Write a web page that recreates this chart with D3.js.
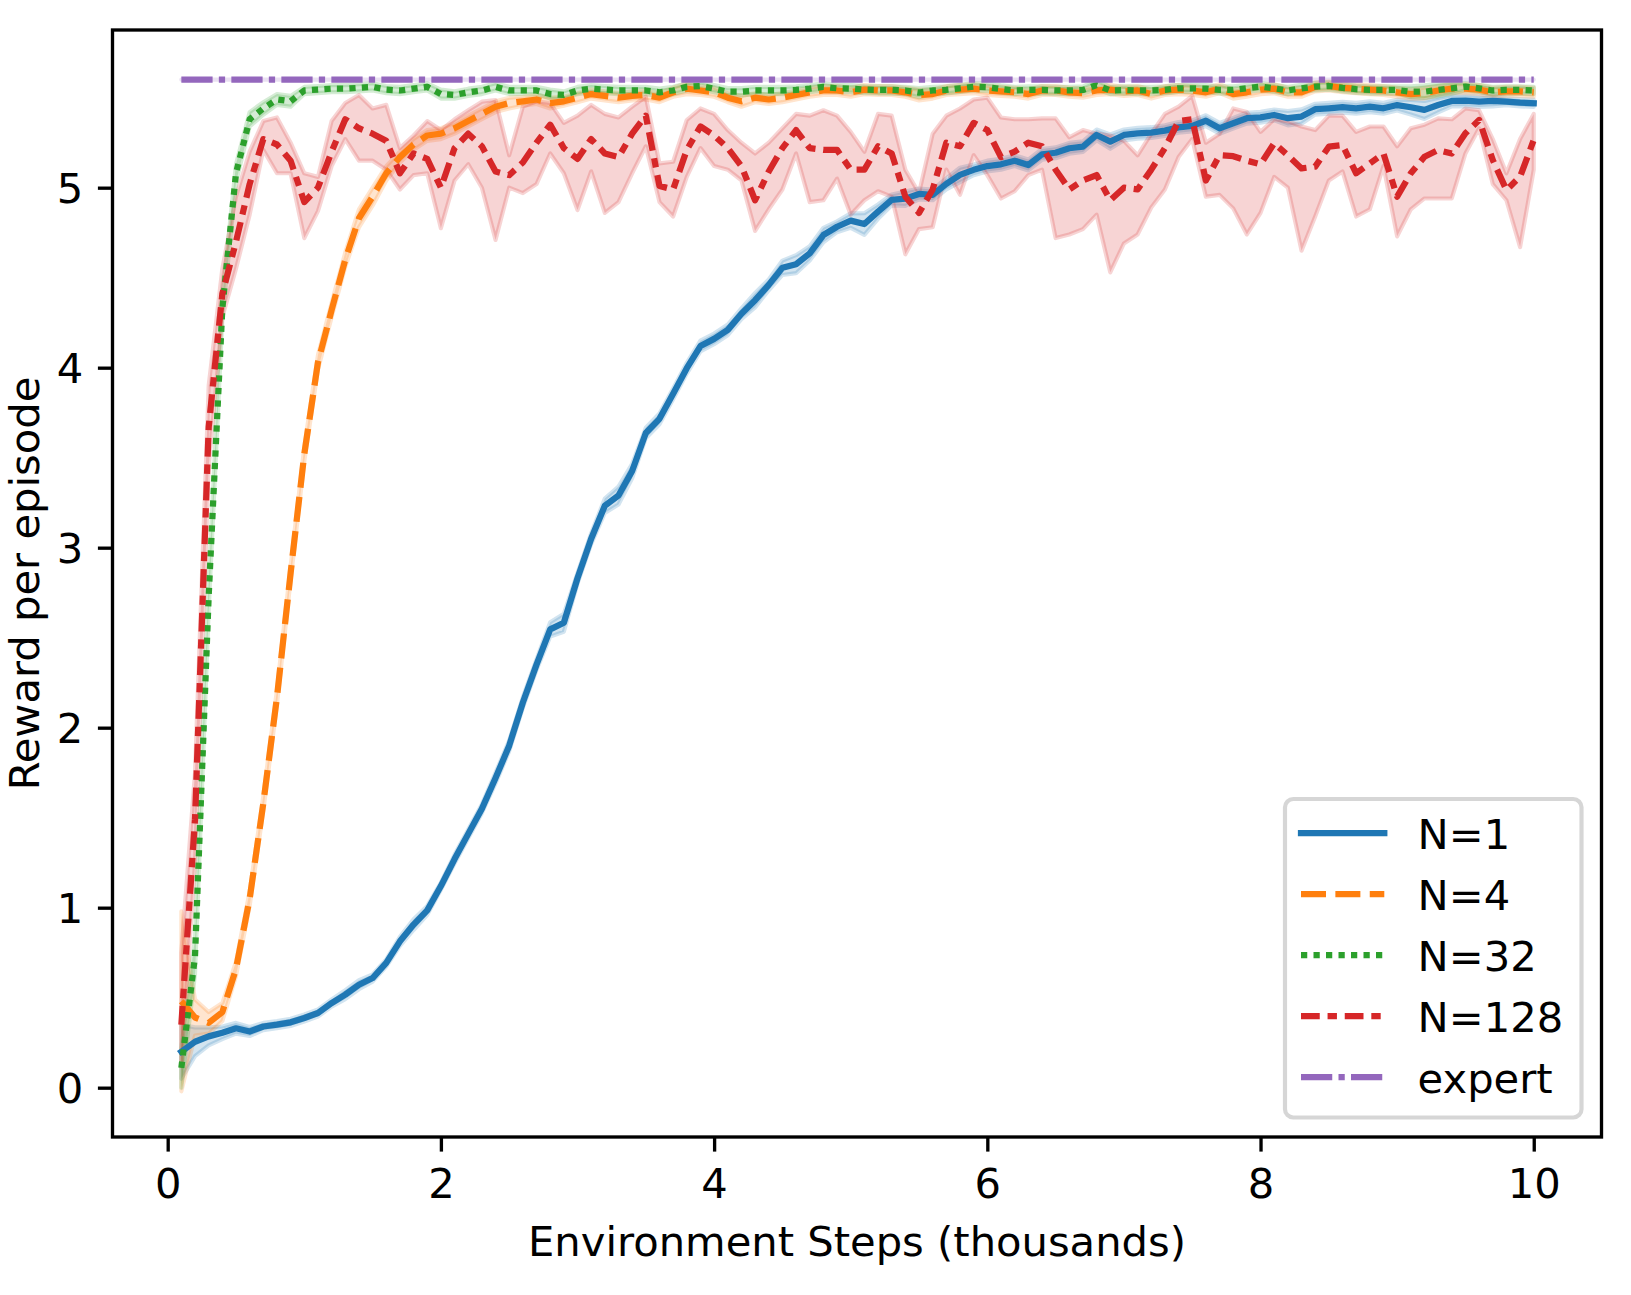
<!DOCTYPE html>
<html><head><meta charset="utf-8">
<script src="https://cdn.jsdelivr.net/npm/d3@7"></script>
<style>body{margin:0;background:#fff}svg{display:block}text{font-family:"DejaVu Sans",sans-serif}</style>
</head><body><svg id="c" width="1631" height="1295"></svg>
<script>
// ---------------- data ----------------
const steps = [0.1,0.2,0.3,0.4,0.5,0.6,0.7,0.8,0.9,1.0,
 1.1,1.2,1.3,1.4,1.5,1.6,1.7,1.8,1.9,2.0,
 2.1,2.2,2.3,2.4,2.5,2.6,2.7,2.8,2.9,3.0,
 3.1,3.2,3.3,3.4,3.5,3.6,3.7,3.8,3.9,4.0,
 4.1,4.2,4.3,4.4,4.5,4.6,4.7,4.8,4.9,5.0,
 5.1,5.2,5.3,5.4,5.5,5.6,5.7,5.8,5.9,6.0,
 6.1,6.2,6.3,6.4,6.5,6.6,6.7,6.8,6.9,7.0,
 7.1,7.2,7.3,7.4,7.5,7.6,7.7,7.8,7.9,8.0,
 8.1,8.2,8.3,8.4,8.5,8.6,8.7,8.8,8.9,9.0,
 9.1,9.2,9.3,9.4,9.5,9.6,9.7,9.8,9.9,10.0];

const n1 = [0.20,0.255,0.285,0.305,0.33,0.312,0.34,0.35,0.363,0.387,
 0.415,0.47,0.517,0.572,0.609,0.693,0.813,0.906,0.985,1.12,
 1.27,1.41,1.55,1.72,1.90,2.14,2.35,2.546,2.583,2.83,
 3.05,3.233,3.29,3.426,3.637,3.716,3.855,3.997,4.12,4.16,
 4.21,4.30,4.375,4.46,4.555,4.575,4.635,4.737,4.783,4.817,
 4.798,4.867,4.932,4.939,4.965,4.96,5.021,5.071,5.099,5.12,
 5.13,5.15,5.126,5.185,5.194,5.219,5.228,5.293,5.256,5.293,
 5.302,5.306,5.317,5.335,5.343,5.372,5.33,5.358,5.386,5.391,
 5.404,5.386,5.395,5.436,5.441,5.447,5.441,5.45,5.441,5.459,
 5.447,5.432,5.459,5.482,5.483,5.478,5.482,5.478,5.472,5.469];
const n1Err = [0.15,0.08,0.05,0.035,0.03,0.025,0.02,0.02,0.02,0.02,
 0.02,0.02,0.025,0.025,0.02,0.02,0.025,0.03,0.025,0.02,
 0.025,0.025,0.025,0.03,0.03,0.03,0.03,0.04,0.05,0.03,
 0.03,0.04,0.05,0.04,0.03,0.03,0.03,0.03,0.03,0.03,
 0.03,0.03,0.04,0.03,0.04,0.05,0.04,0.04,0.03,0.04,
 0.06,0.04,0.03,0.04,0.03,0.03,0.03,0.04,0.03,0.03,
 0.03,0.03,0.03,0.03,0.03,0.03,0.03,0.03,0.04,0.03,
 0.03,0.03,0.03,0.03,0.03,0.03,0.03,0.03,0.03,0.03,
 0.03,0.04,0.04,0.03,0.03,0.03,0.03,0.03,0.03,0.03,
 0.04,0.05,0.04,0.03,0.03,0.03,0.03,0.02,0.02,0.02];

const n4 = [0.48,0.39,0.36,0.42,0.66,1.05,1.58,2.17,2.86,3.52,
 4.03,4.32,4.60,4.83,4.95,5.08,5.17,5.24,5.29,5.30,
 5.33,5.37,5.41,5.45,5.47,5.48,5.49,5.47,5.48,5.50,
 5.52,5.51,5.50,5.51,5.515,5.50,5.53,5.55,5.54,5.53,
 5.50,5.48,5.50,5.49,5.50,5.515,5.53,5.54,5.54,5.53,
 5.545,5.54,5.54,5.53,5.515,5.52,5.54,5.545,5.55,5.54,
 5.535,5.53,5.52,5.54,5.54,5.53,5.525,5.54,5.545,5.535,
 5.54,5.52,5.54,5.545,5.54,5.53,5.55,5.52,5.53,5.545,
 5.55,5.53,5.53,5.56,5.565,5.555,5.55,5.545,5.54,5.53,
 5.52,5.525,5.54,5.55,5.55,5.545,5.53,5.535,5.535,5.53];
const n4Err = [0.5,0.1,0.06,0.05,0.04,0.04,0.04,0.04,0.04,0.04,
 0.04,0.04,0.04,0.05,0.05,0.04,0.03,0.03,0.03,0.03,
 0.03,0.03,0.03,0.03,0.03,0.025,0.025,0.03,0.025,0.025,
 0.025,0.025,0.025,0.025,0.025,0.025,0.025,0.03,0.025,0.025,
 0.025,0.03,0.025,0.025,0.025,0.025,0.025,0.025,0.025,0.025,
 0.025,0.025,0.025,0.025,0.03,0.025,0.025,0.025,0.025,0.025,
 0.025,0.025,0.025,0.025,0.025,0.025,0.025,0.025,0.025,0.025,
 0.025,0.025,0.025,0.025,0.025,0.025,0.025,0.025,0.025,0.025,
 0.025,0.025,0.025,0.025,0.025,0.025,0.025,0.025,0.025,0.025,
 0.025,0.03,0.025,0.025,0.025,0.025,0.025,0.025,0.025,0.025];

const n32 = [0.11,0.73,2.73,4.33,5.08,5.38,5.44,5.49,5.48,5.54,
 5.545,5.55,5.55,5.555,5.56,5.545,5.54,5.55,5.56,5.52,
 5.515,5.53,5.54,5.56,5.54,5.54,5.54,5.52,5.515,5.54,
 5.55,5.545,5.54,5.54,5.54,5.53,5.54,5.56,5.565,5.55,
 5.533,5.533,5.54,5.54,5.54,5.543,5.55,5.56,5.552,5.55,
 5.545,5.543,5.543,5.54,5.528,5.54,5.543,5.552,5.561,5.558,
 5.548,5.54,5.543,5.543,5.54,5.54,5.543,5.57,5.54,5.543,
 5.54,5.54,5.543,5.552,5.552,5.55,5.543,5.543,5.552,5.561,
 5.552,5.54,5.552,5.561,5.565,5.555,5.547,5.543,5.543,5.543,
 5.533,5.533,5.543,5.552,5.561,5.552,5.54,5.543,5.543,5.54];
const n32Err = [0.11,0.1,0.08,0.06,0.05,0.04,0.035,0.03,0.03,0.02,
 0.02,0.02,0.02,0.02,0.02,0.02,0.02,0.02,0.02,0.025,
 0.02,0.02,0.02,0.02,0.02,0.02,0.02,0.025,0.02,0.02,
 0.02,0.02,0.02,0.02,0.02,0.02,0.02,0.02,0.02,0.02,
 0.02,0.02,0.02,0.02,0.02,0.02,0.02,0.02,0.02,0.02,
 0.02,0.02,0.02,0.02,0.025,0.02,0.02,0.02,0.02,0.02,
 0.02,0.02,0.02,0.02,0.02,0.02,0.02,0.025,0.02,0.02,
 0.02,0.02,0.02,0.02,0.02,0.02,0.02,0.02,0.02,0.02,
 0.02,0.02,0.02,0.02,0.02,0.02,0.02,0.02,0.02,0.02,
 0.03,0.035,0.035,0.03,0.02,0.02,0.02,0.02,0.02,0.02];

const n128 = [0.35,1.49,3.67,4.41,4.70,5.02,5.27,5.24,5.15,4.92,
 5.00,5.20,5.38,5.33,5.30,5.26,5.08,5.19,5.16,5.00,
 5.22,5.30,5.23,5.09,5.07,5.14,5.25,5.35,5.22,5.16,
 5.27,5.19,5.17,5.30,5.40,5.01,4.99,5.21,5.34,5.29,
 5.22,5.12,4.93,5.09,5.22,5.32,5.22,5.21,5.21,5.10,
 5.10,5.23,5.19,4.95,4.86,4.99,5.25,5.23,5.36,5.32,
 5.17,5.20,5.25,5.23,5.10,4.99,5.04,5.07,4.93,5.00,
 4.99,5.10,5.22,5.37,5.38,5.04,5.18,5.175,5.15,5.13,
 5.247,5.18,5.107,5.117,5.228,5.237,5.08,5.135,5.19,4.95,
 5.08,5.172,5.209,5.19,5.302,5.376,5.154,4.987,5.061,5.265];
const n128Lo = [0.12,1.25,3.45,4.28,4.55,4.85,5.21,5.08,5.08,4.72,
 4.87,5.12,5.27,5.15,5.15,5.10,4.99,5.07,5.08,4.775,
 5.04,5.13,5.00,4.71,5.00,4.97,5.02,5.19,5.08,4.876,
 5.09,4.86,4.92,5.08,5.23,4.92,4.84,5.06,5.22,5.12,
 5.10,5.04,4.76,4.88,4.99,5.19,4.92,4.93,5.05,4.85,
 4.93,4.98,4.95,4.63,4.77,4.78,5.10,4.96,5.18,5.07,
 4.94,4.98,5.07,5.10,4.72,4.74,4.77,4.85,4.53,4.69,
 4.74,4.89,4.99,5.17,5.27,4.95,4.96,4.885,4.74,4.86,
 5.06,5.00,4.65,4.84,5.04,5.09,4.84,4.88,5.12,4.73,
 4.88,4.94,4.94,4.94,5.19,5.33,5.02,4.93,4.67,5.10];
const n128Hi = [0.75,1.75,3.90,4.55,4.95,5.20,5.37,5.39,5.25,5.08,
 5.06,5.37,5.47,5.515,5.44,5.46,5.22,5.29,5.37,5.32,
 5.38,5.43,5.478,5.487,5.18,5.45,5.48,5.47,5.36,5.40,
 5.46,5.41,5.39,5.45,5.505,5.135,5.144,5.376,5.44,5.41,
 5.32,5.25,5.19,5.25,5.33,5.41,5.40,5.43,5.40,5.31,
 5.20,5.41,5.40,5.10,4.97,5.30,5.40,5.44,5.49,5.50,
 5.39,5.38,5.38,5.385,5.385,5.28,5.32,5.30,5.29,5.26,
 5.18,5.30,5.41,5.45,5.51,5.25,5.30,5.44,5.42,5.31,
 5.38,5.37,5.34,5.32,5.40,5.40,5.31,5.34,5.34,5.23,
 5.33,5.35,5.385,5.38,5.44,5.43,5.27,5.08,5.27,5.41];

const expertSteps = [0.1, 10.0];
const expertVals = [5.6, 5.6];

const seriesLabels = ["N=1","N=4","N=32","N=128","expert"];
const xTicks = [0,2,4,6,8,10];
const yTicks = [0,1,2,3,4,5];
const xLabel = "Environment Steps (thousands)";
const yLabel = "Reward per episode";

// ---------------- layout / style ----------------
const AX = {l:112.5, r:1601.5, t:30, b:1137};
const FS = 41.67, LW = 6.25, SPW = 3.33, TICK = 14.6;
const colors = ["#1f77b4","#ff7f0e","#2ca02c","#d62728","#9467bd"];
const dashUnits = [null,[4,1.5],[1,1],[3,1.25,1.5,1.25],[5,1,1,1]];
const dashOf = i => dashUnits[i] ? dashUnits[i].map(v=>v*LW).join(",") : null;

const svg = d3.select("#c");
const x = d3.scaleLinear().domain([-0.404, 10.496]).range([AX.l, AX.r]);
const y = d3.scaleLinear().domain([-0.274, 5.876]).range([AX.b, AX.t]);

const series = [
  {x:steps, y:n1, lo:n1.map((v,i)=>v-n1Err[i]), hi:n1.map((v,i)=>v+n1Err[i])},
  {x:steps, y:n4, lo:n4.map((v,i)=>v-n4Err[i]), hi:n4.map((v,i)=>v+n4Err[i])},
  {x:steps, y:n32, lo:n32.map((v,i)=>v-n32Err[i]), hi:n32.map((v,i)=>v+n32Err[i])},
  {x:steps, y:n128, lo:n128Lo, hi:n128Hi},
  {x:expertSteps, y:expertVals, lo:expertVals, hi:expertVals}
];

svg.append("defs").append("clipPath").attr("id","clip")
  .append("rect").attr("x",AX.l).attr("y",AX.t).attr("width",AX.r-AX.l).attr("height",AX.b-AX.t);

const plot = svg.append("g").attr("clip-path","url(#clip)");
const area = d3.area().x(d=>x(d.x)).y0(d=>y(d.lo)).y1(d=>y(d.hi));
const line = d3.line().x(d=>x(d.x)).y(d=>y(d.y));

const pts = series.map(s => s.x.map((xv,i)=>({x:xv, y:s.y[i], lo:s.lo[i], hi:s.hi[i]})));

// bands (below all lines)
pts.forEach((p,i)=>{
  plot.append("path").attr("d", area(p))
    .attr("fill", colors[i]).attr("fill-opacity",0.2)
    .attr("stroke", colors[i]).attr("stroke-opacity",0.2)
    .attr("stroke-width", 4.17).attr("stroke-linejoin","round");
});
// lines
pts.forEach((p,i)=>{
  const el = plot.append("path").attr("d", line(p))
    .attr("fill","none").attr("stroke", colors[i]).attr("stroke-width", LW)
    .attr("stroke-linejoin","round")
    .attr("stroke-linecap", dashUnits[i] ? "butt" : "square");
  if (dashUnits[i]) el.attr("stroke-dasharray", dashOf(i));
});

// axes
const gx = svg.append("g").attr("transform",`translate(0,${AX.b})`)
  .call(d3.axisBottom(x).tickValues(xTicks).tickFormat(d3.format("d")).tickSize(TICK).tickPadding(14.6));
gx.select(".domain").remove();
gx.attr("font-size",FS).attr("font-family","DejaVu Sans");
gx.selectAll(".tick line").attr("stroke","#000").attr("stroke-width",SPW);
gx.selectAll(".tick text").attr("y",60.9).attr("dy",null).attr("fill","#000");

const gy = svg.append("g").attr("transform",`translate(${AX.l},0)`)
  .call(d3.axisLeft(y).tickValues(yTicks).tickFormat(d3.format("d")).tickSize(TICK).tickPadding(14.6));
gy.select(".domain").remove();
gy.attr("font-size",FS).attr("font-family","DejaVu Sans");
gy.selectAll(".tick line").attr("stroke","#000").attr("stroke-width",SPW);
gy.selectAll(".tick text").attr("x",-29.2).attr("dy","15.2").attr("fill","#000");

// frame
svg.append("rect").attr("x",AX.l).attr("y",AX.t).attr("width",AX.r-AX.l).attr("height",AX.b-AX.t)
  .attr("fill","none").attr("stroke","#000").attr("stroke-width",SPW);

// axis labels
svg.append("text").attr("x",(AX.l+AX.r)/2).attr("y",1256).attr("text-anchor","middle")
  .attr("font-size",FS).attr("fill","#000").text(xLabel);
svg.append("text").attr("transform",`translate(39,${(AX.t+AX.b)/2}) rotate(-90)`)
  .attr("text-anchor","middle").attr("font-size",FS).attr("fill","#000").text(yLabel);

// legend
const lg = svg.append("g");
lg.append("rect").attr("x",1285).attr("y",799).attr("width",296.5).attr("height",318.5)
  .attr("rx",8.3).attr("ry",8.3)
  .attr("fill","#fff").attr("fill-opacity",0.8)
  .attr("stroke","#cccccc").attr("stroke-opacity",0.8).attr("stroke-width",4.17);
seriesLabels.forEach((lab,i)=>{
  const cy = 833 + 61*i;
  const hl = lg.append("line").attr("x1",1301).attr("x2",1384.3).attr("y1",cy).attr("y2",cy)
    .attr("stroke",colors[i]).attr("stroke-width",LW)
    .attr("stroke-linecap", dashUnits[i] ? "butt" : "square");
  if (dashUnits[i]) hl.attr("stroke-dasharray", dashOf(i));
  lg.append("text").attr("x",1417.6).attr("y",cy+15.5).attr("font-size",FS).attr("fill","#000").text(lab);
});
</script>
</body></html>
